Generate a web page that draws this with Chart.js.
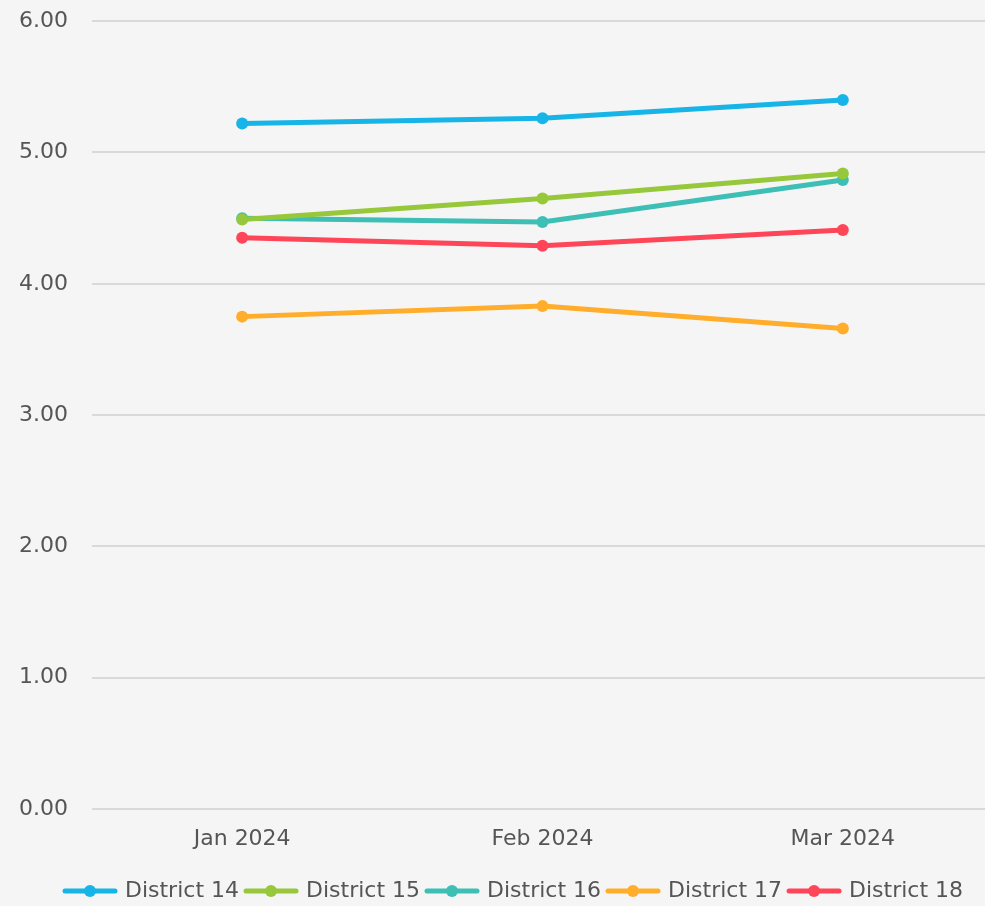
<!DOCTYPE html>
<html>
<head>
<meta charset="utf-8">
<script src="https://cdn.jsdelivr.net/npm/chart.js@4.4.1/dist/chart.umd.min.js"></script>
<style>
  html, body { margin: 0; padding: 0; background: #f5f5f5; overflow: hidden; }
  #wrap { position: absolute; left: 0; top: -16px; width: 1030px; height: 928px; }
</style>
</head>
<body>
<div id="wrap"><canvas id="districtChart"></canvas></div>
<script>
// Monthly values per district
const months = ['Jan 2024', 'Feb 2024', 'Mar 2024'];
const district14 = [5.22, 5.26, 5.40];
const district15 = [4.49, 4.65, 4.84];
const district16 = [4.50, 4.47, 4.79];
const district17 = [3.75, 3.83, 3.66];
const district18 = [4.35, 4.29, 4.41];
const yTicks = [0, 1, 2, 3, 4, 5, 6];

const seriesNames = ['District 14', 'District 15', 'District 16', 'District 17', 'District 18'];
const seriesData = [district14, district15, district16, district17, district18];
const seriesColors = ['#17b4e8', '#97c83b', '#3dbfb5', '#ffad2b', '#ff4558'];

const fontFamily = 'DejaVu Sans';

// legend marker: short line with a dot in the middle
function legendMarker(color) {
    const c = document.createElement('canvas');
    c.width = 56;
    c.height = 14;
    const ctx = c.getContext('2d');
    ctx.strokeStyle = color;
    ctx.lineWidth = 5;
    ctx.lineCap = 'round';
    ctx.beginPath();
    ctx.moveTo(3, 7);
    ctx.lineTo(53, 7);
    ctx.stroke();
    ctx.fillStyle = color;
    ctx.beginPath();
    ctx.arc(28, 7, 6, 0, Math.PI * 2);
    ctx.fill();
    return c;
}

const datasets = seriesNames.map((name, i) => ({
    label: name,
    data: seriesData[i],
    borderColor: seriesColors[i],
    backgroundColor: seriesColors[i],
    borderWidth: 5,
    pointRadius: 6,
    pointHoverRadius: 6,
    pointBorderWidth: 0,
    tension: 0
}));

const ctx = document.getElementById('districtChart');
const chart = new Chart(ctx, {
    type: 'line',
    data: { labels: months, datasets: datasets },
    options: {
        responsive: true,
        maintainAspectRatio: false,
        animation: false,
        layout: { padding: { left: 0, right: 37, top: 0, bottom: 0 } },
        plugins: {
            tooltip: { enabled: false },
            legend: {
                position: 'bottom',
                labels: {
                    color: '#555',
                    font: { family: fontFamily, size: 22 },
                    padding: 8,
                    boxHeight: 14,
                    usePointStyle: true,
                    pointStyleWidth: 48,
                    generateLabels: chart => chart.data.datasets.map((ds, i) => ({
                        text: ds.label,
                        fontColor: '#555',
                        pointStyle: legendMarker(ds.borderColor),
                        fillStyle: ds.borderColor,
                        strokeStyle: ds.borderColor,
                        lineWidth: 0,
                        hidden: false,
                        datasetIndex: i
                    }))
                }
            }
        },
        scales: {
            x: {
                offset: true,
                grid: { display: false },
                border: { display: false },
                afterFit: axis => { axis.height = 63; },
                ticks: { color: '#555', font: { family: fontFamily, size: 22 }, padding: 9 }
            },
            y: {
                min: 0,
                max: 6,
                afterBuildTicks: axis => { axis.ticks = yTicks.map(v => ({ value: v })); },
                afterFit: axis => { axis.width = 92; },
                grid: { color: '#d9d9d9', lineWidth: 2, drawTicks: false },
                border: { display: false },
                ticks: {
                    color: '#555',
                    font: { family: fontFamily, size: 22 },
                    padding: 24,
                    callback: v => v.toFixed(2)
                }
            }
        }
    }
});

// the legend in the original sits a bit right of centre
const legendDraw = chart.legend.draw;
chart.legend.draw = function (area) {
    const c = this.ctx;
    c.save();
    c.translate(18, 0);
    legendDraw.call(this, area);
    c.restore();
};
chart.draw();
</script>
</body>
</html>
